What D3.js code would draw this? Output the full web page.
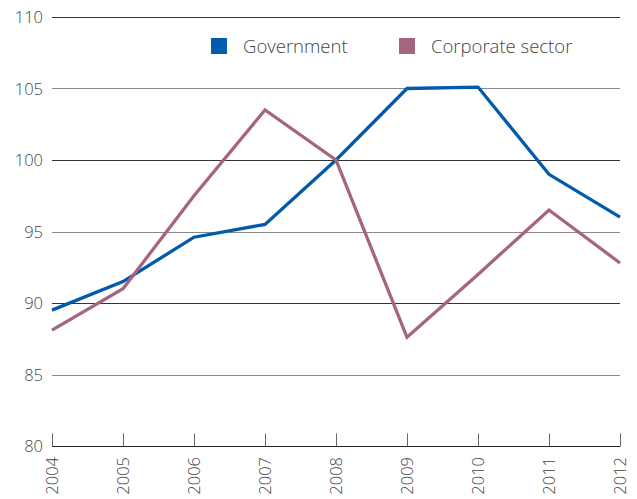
<!DOCTYPE html>
<html>
<head>
<meta charset="utf-8">
<script src="https://cdn.jsdelivr.net/npm/d3@7"></script>
<style>
  body { margin: 0; background: #fff; }
  text { font-family: "Open Sans", sans-serif; font-weight: 300; fill: #444; }
</style>
</head>
<body>
<div id="chart"></div>
<script>
// Width and height
var w = 637;
var h = 499;

var years = [2004, 2005, 2006, 2007, 2008, 2009, 2010, 2011, 2012];
var government = [89.5, 91.5, 94.6, 95.5, 100, 105, 105.1, 99, 96];
var corporate = [88.1, 91, 97.5, 103.5, 100, 87.6, 92, 96.5, 92.8];
var yTicks = [80, 85, 90, 95, 100, 105, 110];

var x = d3.scaleLinear().domain([2004, 2012]).range([52, 620]);
var y = d3.scaleLinear().domain([80, 110]).range([446, 17]);

var svg = d3.select("#chart")
  .append("svg")
  .attr("width", w)
  .attr("height", h);

// gridlines
svg.selectAll("line.grid")
  .data(yTicks.filter(function(d) { return d > 80; }))
  .enter()
  .append("line")
  .attr("class", "grid")
  .attr("x1", 52)
  .attr("x2", 620)
  .attr("y1", function(d) { return Math.round(y(d)) + 0.5; })
  .attr("y2", function(d) { return Math.round(y(d)) + 0.5; })
  .attr("stroke", function(d) { return d % 10 == 0 ? "#333" : "#888"; })
  .attr("stroke-width", 1);

// y labels
svg.selectAll("text.ylab")
  .data(yTicks)
  .enter()
  .append("text")
  .attr("class", "ylab")
  .attr("x", 43)
  .attr("y", function(d) { return y(d) + 6; })
  .attr("text-anchor", "end")
  .attr("font-size", "16.5px")
  .text(function(d) { return d; });

// x axis
var xAxis = d3.axisTop(x)
  .tickValues(years)
  .tickSize(13)
  .tickFormat("");

var gx = svg.append("g")
  .attr("transform", "translate(0," + 446.5 + ")")
  .call(xAxis);
gx.select(".domain").attr("stroke", "#222").attr("stroke-width", 1.2).attr("d", "M52,0H620");
gx.selectAll(".tick line").attr("stroke", "#666");

svg.selectAll("text.xlab")
  .data(years)
  .enter()
  .append("text")
  .attr("class", "xlab")
  .attr("text-anchor", "end")
  .attr("font-size", "16.5px")
  .attr("transform", function(d) {
    return "translate(" + (x(d) + 6) + ",457) rotate(-90)";
  })
  .text(function(d) { return d; });

// lines
var line = d3.line()
  .x(function(d, i) { return x(years[i]); })
  .y(function(d) { return y(d); });

var series = [
  { name: "Government", values: government, color: "#005bac" },
  { name: "Corporate sector", values: corporate, color: "#a6657e" }
];

svg.selectAll("path.series")
  .data(series)
  .enter()
  .append("path")
  .attr("class", "series")
  .attr("d", function(d) { return line(d.values); })
  .attr("fill", "none")
  .attr("stroke", function(d) { return d.color; })
  .attr("stroke-width", 3.3);

// legend
var legendX = [211, 399];
svg.selectAll("rect.leg")
  .data(series)
  .enter()
  .append("rect")
  .attr("class", "leg")
  .attr("x", function(d, i) { return legendX[i]; })
  .attr("y", 38)
  .attr("width", 16)
  .attr("height", 16)
  .attr("fill", function(d) { return d.color; });

svg.selectAll("text.leg")
  .data(series)
  .enter()
  .append("text")
  .attr("class", "leg")
  .attr("x", function(d, i) { return legendX[i] + 32; })
  .attr("y", 53)
  .attr("font-size", "18.5px")
  .text(function(d) { return d.name; });
</script>
</body>
</html>
